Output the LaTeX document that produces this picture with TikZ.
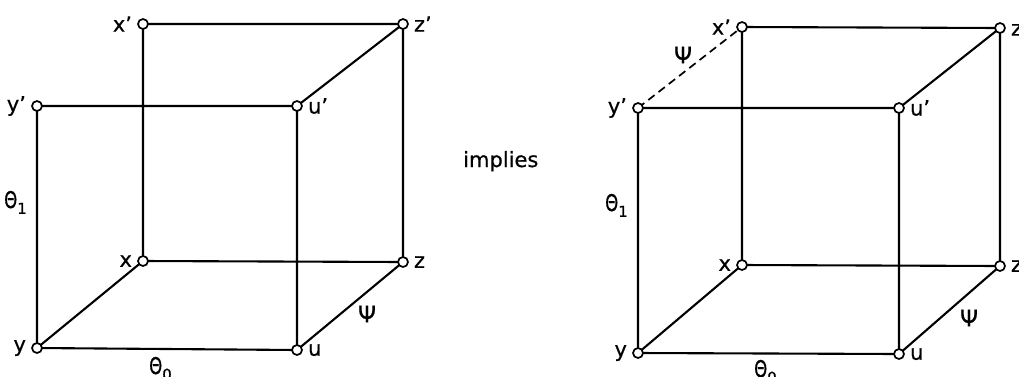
\documentclass[tikz,border=0pt]{standalone}
\usepackage{fontspec}
\setmainfont{DejaVu Sans}[FakeBold=0.6]
\begin{document}
\begin{tikzpicture}[x=1pt,y=-1pt,
  vtx/.style={circle,draw,fill=white,line width=1.7pt,inner sep=0pt,minimum size=10pt},
  edge/.style={line width=2.1pt},
  lbl/.style={font=\fontsize{21}{21}\selectfont,inner sep=0pt,label distance=5pt},
  txt/.style={font=\fontsize{21}{21}\selectfont,inner sep=0pt},
  psi/.style={font=\fontsize{23}{23}\selectfont,inner sep=0pt}]
\useasboundingbox (0,0) rectangle (1019,376);
\newcommand{\thsub}[1]{\scalebox{0.72}[1]{\fontsize{23}{23}\selectfont Θ}\raisebox{-0.5ex}{\fontsize{15}{15}\selectfont #1}}
% left cube
\coordinate (Lxp) at (143,24);
\coordinate (Lzp) at (403,24);
\coordinate (Lyp) at (37,106);
\coordinate (Lup) at (297,106);
\coordinate (Lx) at (143,261);
\coordinate (Lz) at (403,262);
\coordinate (Ly) at (37,348);
\coordinate (Lu) at (297,350);
\draw[edge] (Lxp) -- (Lzp) (Lxp) -- (Lx) (Lyp) -- (Lup) (Lyp) -- (Ly)
  (Lup) -- (Lzp) (Lup) -- (Lu) (Lzp) -- (Lz) (Lx) -- (Lz) (Lx) -- (Ly)
  (Ly) -- (Lu) (Lu) -- (Lz);
\node[vtx,label={[lbl]left:x'}] (nLxp) at (Lxp) {};
\node[vtx,label={[lbl]right:z'}] (nLzp) at (Lzp) {};
\node[vtx,label={[lbl]left:y'}] (nLyp) at (Lyp) {};
\node[vtx,label={[lbl]right:u'}] (nLup) at (Lup) {};
\node[vtx,label={[lbl]left:x}] (nLx) at (Lx) {};
\node[vtx,label={[lbl]right:z}] (nLz) at (Lz) {};
\node[vtx,label={[lbl]left:y}] (nLy) at (Ly) {};
\node[vtx,label={[lbl]right:u}] (nLu) at (Lu) {};
\node[txt,anchor=base west] (Lth1) at (4,208) {\thsub{1}};
\node[txt,anchor=base west] (Lth0) at (149,374) {\thsub{0}};
\node[psi] (Lpsi) at (367,314) {Ψ};
% implies
\node[txt,anchor=base west] (imp) at (463,167) {implies};
% right cube
\coordinate (Rxp) at (742,27);
\coordinate (Rzp) at (1000,28);
\coordinate (Ryp) at (638,108);
\coordinate (Rup) at (899,108);
\coordinate (Rx) at (742,265);
\coordinate (Rz) at (1000,266);
\coordinate (Ry) at (638,353);
\coordinate (Ru) at (899,354);
\draw[edge] (Rxp) -- (Rzp) (Rxp) -- (Rx) (Ryp) -- (Rup) (Ryp) -- (Ry)
  (Rup) -- (Rzp) (Rup) -- (Ru) (Rzp) -- (Rz) (Rx) -- (Rz) (Rx) -- (Ry)
  (Ry) -- (Ru) (Ru) -- (Rz);
\draw[line width=1.7pt,dash pattern=on 8pt off 5pt] (Ryp) -- (Rxp);
\node[vtx,label={[lbl]left:x'}] (nRxp) at (Rxp) {};
\node[vtx,label={[lbl]right:z'}] (nRzp) at (Rzp) {};
\node[vtx,label={[lbl]left:y'}] (nRyp) at (Ryp) {};
\node[vtx,label={[lbl]right:u'}] (nRup) at (Rup) {};
\node[vtx,label={[lbl]left:x}] (nRx) at (Rx) {};
\node[vtx,label={[lbl]right:z}] (nRz) at (Rz) {};
\node[vtx,label={[lbl]left:y}] (nRy) at (Ry) {};
\node[vtx,label={[lbl]right:u}] (nRu) at (Ru) {};
\node[txt,anchor=base west] (Rth1) at (605,211) {\thsub{1}};
\node[txt,anchor=base west] (Rth0) at (754,377) {\thsub{0}};
\node[psi] (Rpsi) at (969,318) {Ψ};
\node[psi] (Rpsid) at (683,55) {Ψ};
\end{tikzpicture}
\end{document}
